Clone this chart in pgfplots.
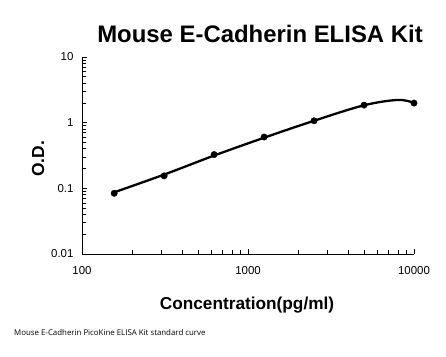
\documentclass[border=0pt]{standalone}
\usepackage{fontspec}
\setmainfont{Liberation Sans}
\newfontfamily\footfont{Open Sans}
\usepackage{pgfplots}
\pgfplotsset{compat=1.18}
\begin{document}
\begin{tikzpicture}[x=1bp,y=1bp]
\useasboundingbox (0,0) rectangle (446,356);
\fill[white] (0,0) rectangle (446,356);
\begin{axis}[
  at={(82bp,102bp)}, anchor=south west,
  scale only axis, width=332bp, height=197bp,
  xmode=log, ymode=log,
  xmin=100, xmax=10000, ymin=0.01, ymax=10,
  axis x line=bottom, axis y line=left,
  axis line style={-, line width=0.9pt},
  xtick={100,1000,10000}, xticklabels={100,1000,10000},
  ytick={0.01,0.1,1,10}, yticklabels={0.01,0.1,1,10},
  minor xtick={200,300,400,500,600,700,800,900,2000,3000,4000,5000,6000,7000,8000,9000},
  minor ytick={0.02,0.03,0.04,0.05,0.06,0.07,0.08,0.09,0.2,0.3,0.4,0.5,0.6,0.7,0.8,0.9,2,3,4,5,6,7,8,9},
  tick align=inside,
  major tick length=5bp, minor tick length=4bp,
  tick style={black, line width=0.8pt},
  /pgf/number format/assume math mode=true,
  tick label style={font=\fontsize{11.5}{13}\selectfont},
  xticklabel style={yshift=-9bp},
  yticklabel style={xshift=-5bp},
  clip=false,
]
\addplot[black, line width=2.3pt, smooth, tension=0.55] coordinates {
  (156.25,0.087) (312.5,0.162) (625,0.316) (1250,0.59) (2500,1.07) (5000,1.84) (8000,2.22) (10000,2.0)
};
\addplot[only marks, mark=*, mark size=3.2bp, black] coordinates {
  (156.25,0.084) (312.5,0.155) (625,0.327) (1250,0.605) (2500,1.07) (5000,1.85) (10000,1.99)
};
\end{axis}
\node[font=\bfseries\fontsize{24}{28}\selectfont] at (260,322) {Mouse E-Cadherin ELISA Kit};
\node[font=\bfseries\fontsize{17.5}{20}\selectfont, rotate=90] at (38,197) {O.D.};
\node[font=\bfseries\fontsize{17.3}{20}\selectfont] at (247,51) {Concentration(pg/ml)};
\node[font=\footfont\fontsize{7.9}{9}\selectfont, anchor=west, inner sep=0pt] at (14,23) {Mouse E-Cadherin PicoKine ELISA Kit standard curve};
\end{tikzpicture}
\end{document}
